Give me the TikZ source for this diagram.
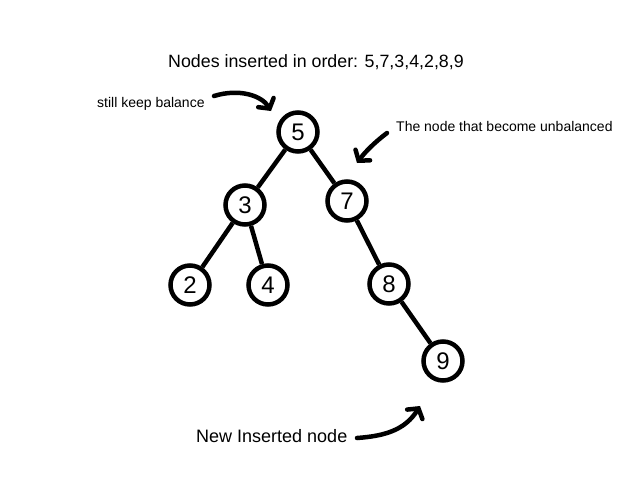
\documentclass[tikz,border=0pt]{standalone}
\usepackage{fontspec}
\setmainfont{Liberation Sans}
\usetikzlibrary{arrows.meta}
\begin{document}
\begin{tikzpicture}[x=1pt,y=-1pt,
  treenode/.style={circle,draw=black,line width=4.5pt,minimum size=39pt,inner sep=0pt,font=\fontsize{24}{24}\selectfont},
  edge/.style={line width=4.5pt},
  pointer/.style={line width=4.5pt,line cap=round,-{Straight Barb[length=7pt,width=18pt,line cap=round]}},
  note/.style={inner sep=0pt,font=\fontsize{14}{16}\selectfont}]
\useasboundingbox[fill=white] (0,0) rectangle (640,480);
\node[inner sep=0pt,font=\fontsize{17.8}{20}\selectfont] (title) at (316,62) {Nodes inserted in order: 5,7,3,4,2,8,9};
\node[treenode] (n5) at (298,132) {5};
\node[treenode] (n3) at (245,205) {3};
\node[treenode] (n7) at (347,201) {7};
\node[treenode] (n2) at (190,285) {2};
\node[treenode] (n4) at (268,285) {4};
\node[treenode] (n8) at (389,284) {8};
\node[treenode] (n9) at (443,361) {9};
\draw[edge] (n5) -- (n3);
\draw[edge] (n5) -- (n7);
\draw[edge] (n3) -- (n2);
\draw[edge] (n3) -- (n4);
\draw[edge] (n7) -- (n8);
\draw[edge] (n8) -- (n9);
\node[note,anchor=west] (lbl1) at (97,104) {still keep balance};
\node[note,anchor=west] (lbl2) at (396,126) {The node that become unbalanced};
\node[inner sep=0pt,anchor=west,font=\fontsize{18}{20}\selectfont] (lbl3) at (196,436) {New Inserted node};
\coordinate (a1s) at (214,96);
\coordinate (a1e) at (271,111);
\coordinate (a2s) at (387,133);
\coordinate (a2e) at (357,163);
\coordinate (a3s) at (357,438);
\coordinate (a3e) at (420,406);
\draw[pointer] (a1s) .. controls (240,88) and (262,96) .. (a1e);
\draw[pointer] (a2s) .. controls (375,142) and (365,152) .. (a2e);
\draw[pointer] (a3s) .. controls (385,436) and (405,430) .. (a3e);
\end{tikzpicture}
\end{document}
